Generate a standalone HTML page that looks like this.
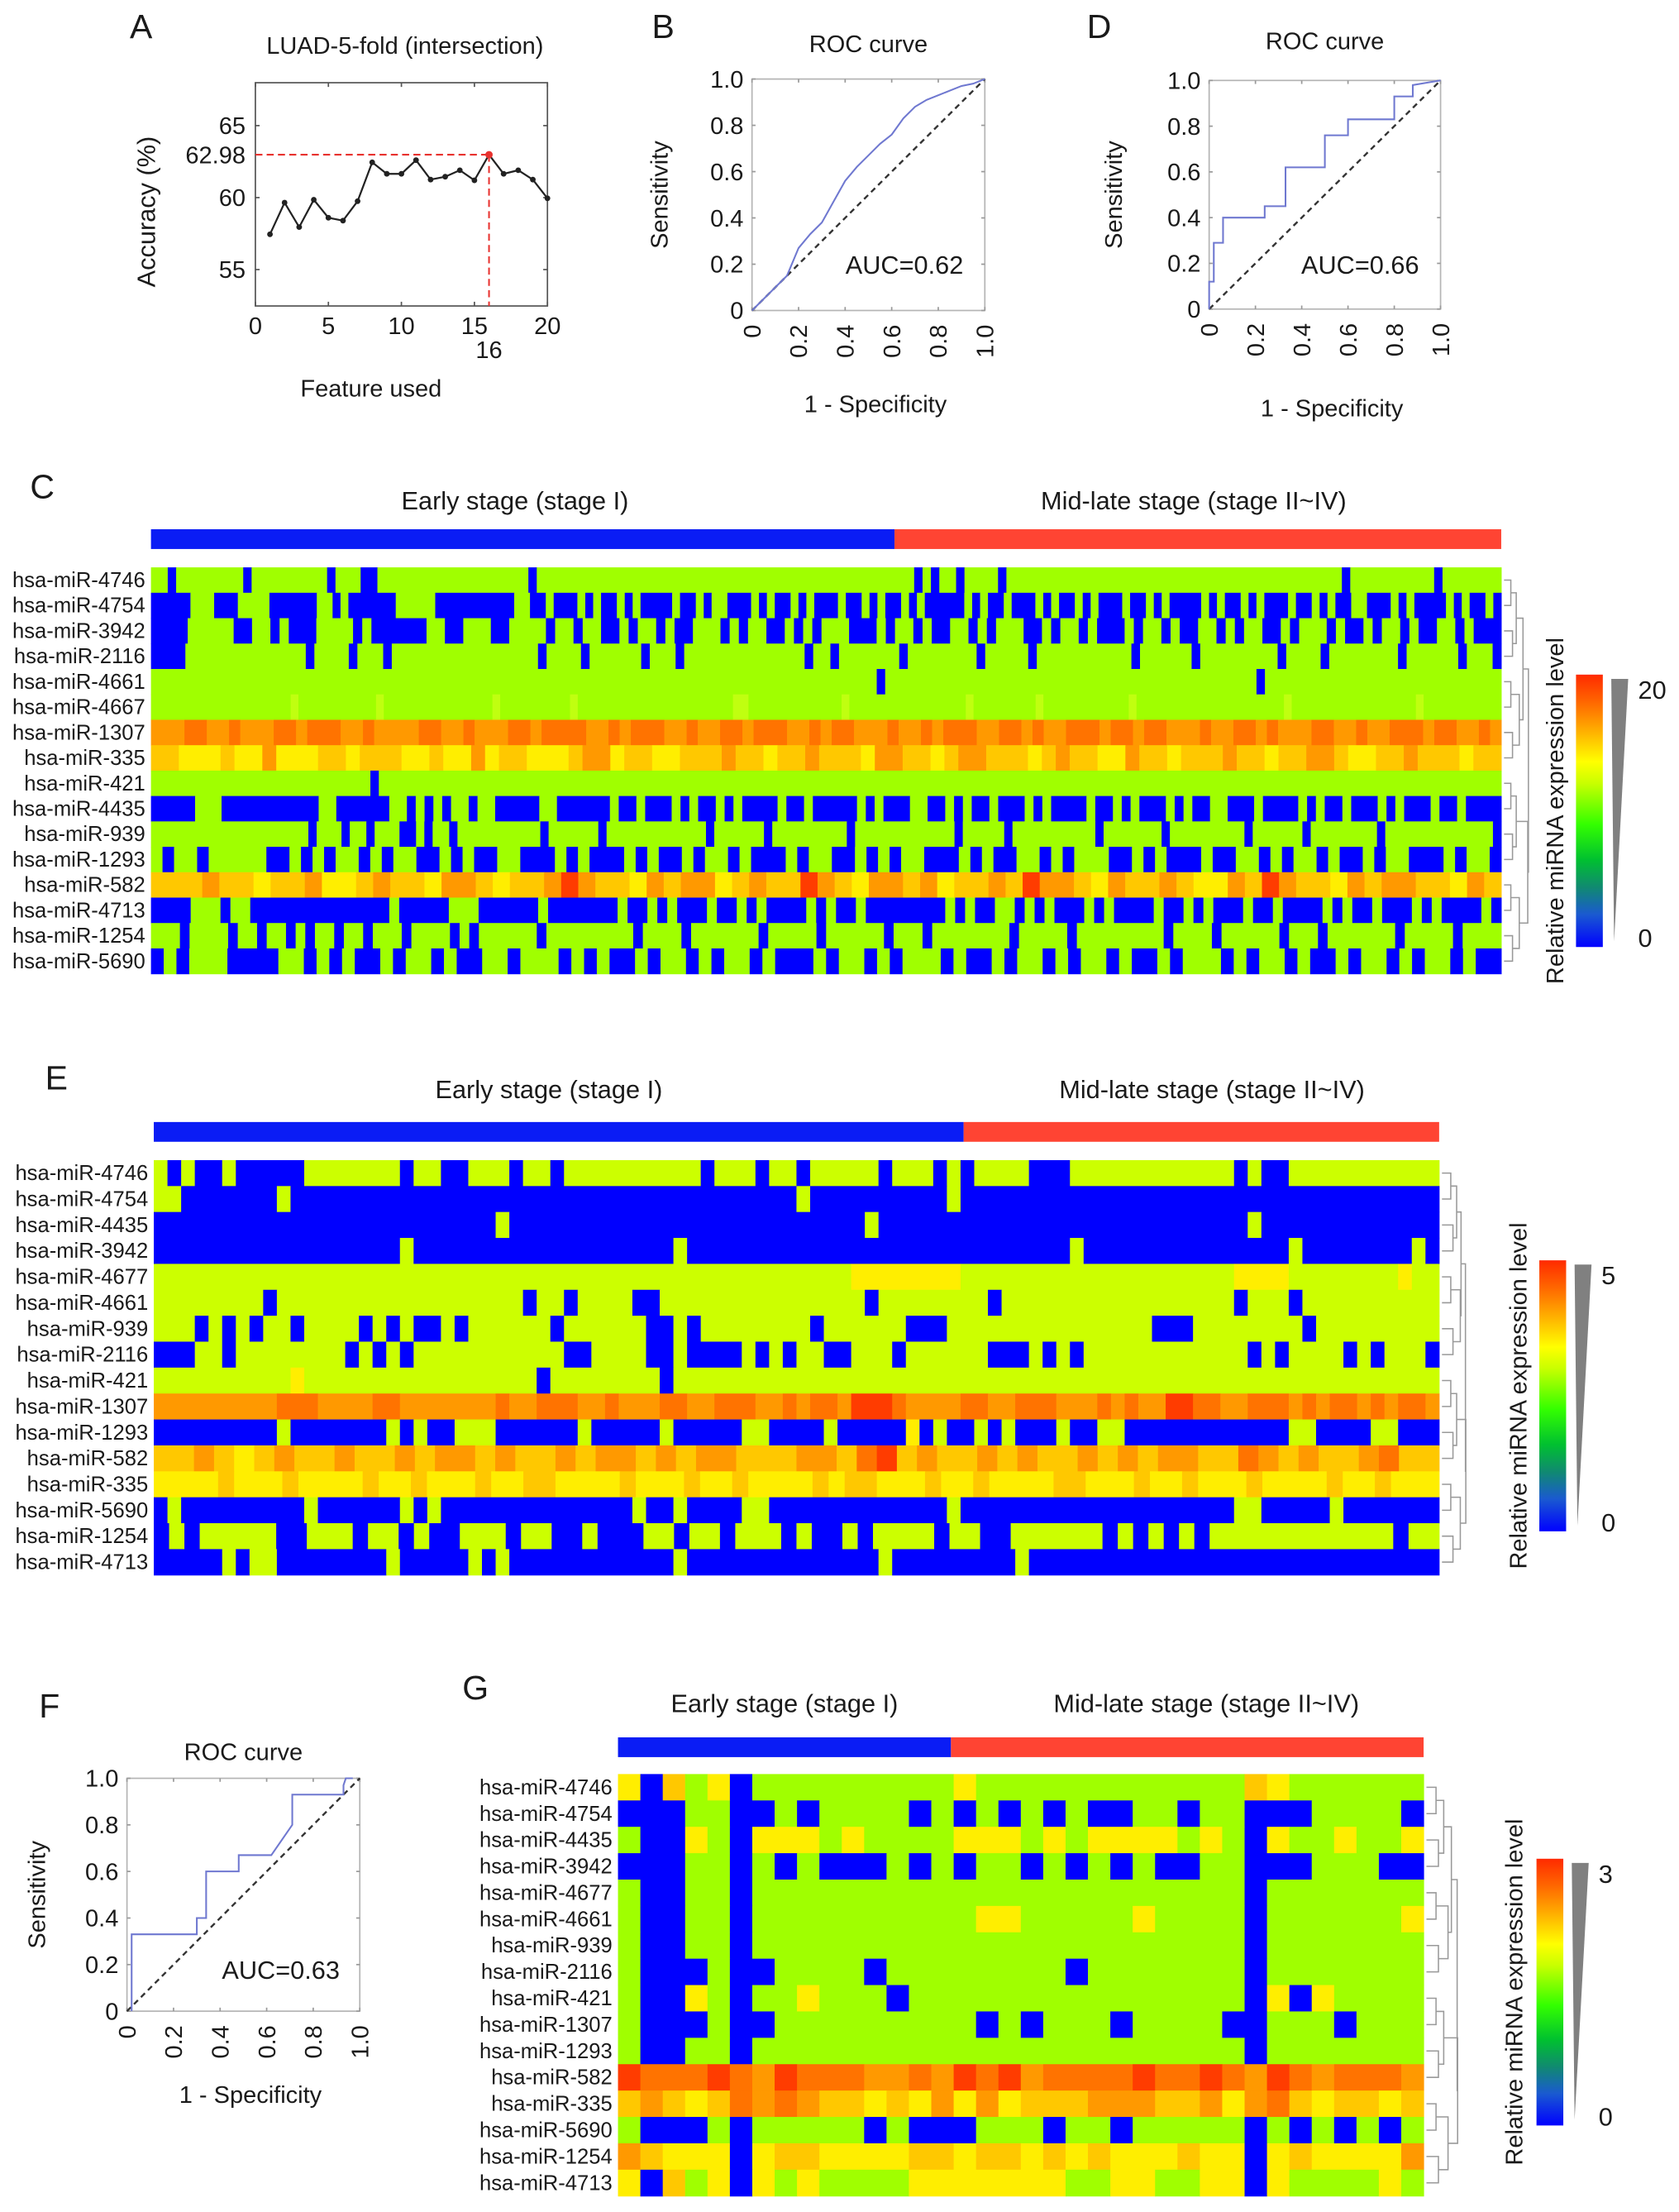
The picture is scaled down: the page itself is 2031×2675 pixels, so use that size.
<!DOCTYPE html>
<html><head><meta charset="utf-8"><style>
html,body{margin:0;padding:0;background:#fff;}
svg{display:block;font-family:"Liberation Sans",Arial,sans-serif;}
</style></head><body>
<svg id="fig" xmlns="http://www.w3.org/2000/svg" width="2031" height="2675" viewBox="0 0 1190 1567.3" preserveAspectRatio="none">
<rect x="0" y="0" width="1190" height="1567.3" fill="#fff"/>
</svg>
<script>
// ---------- Panel A data ----------
const featX = [1,2,3,4,5,6,7,8,9,10,11,12,13,14,15,16,17,18,19,20];
const accY = [57.45,59.65,57.95,59.85,58.6,58.4,59.75,62.45,61.65,61.65,62.6,61.25,61.45,61.9,61.2,62.98,61.65,61.9,61.25,59.95];
const accYTicks = [55,60,65];
const accXTicks = [0,5,10,15,20];
// ---------- ROC data ----------
const rocBx = [0,0.05,0.1,0.15,0.2,0.25,0.3,0.35,0.4,0.45,0.5,0.55,0.6,0.65,0.7,0.75,0.8,0.85,0.9,0.95,1];
const rocBy = [0,0.05,0.1,0.15,0.27,0.33,0.38,0.47,0.56,0.62,0.67,0.72,0.76,0.83,0.88,0.91,0.93,0.95,0.97,0.98,1];
const rocDx = [0,0,0.02,0.02,0.06,0.06,0.24,0.24,0.33,0.33,0.5,0.5,0.6,0.6,0.8,0.8,0.88,0.88,1];
const rocDy = [0,0.12,0.12,0.29,0.29,0.4,0.4,0.45,0.45,0.62,0.62,0.76,0.76,0.83,0.83,0.93,0.93,0.98,1];
const rocFx = [0.02,0.02,0.3,0.3,0.34,0.34,0.48,0.48,0.62,0.71,0.71,0.93,0.93,0.94,0.97];
const rocFy = [0,0.33,0.33,0.4,0.4,0.6,0.6,0.67,0.67,0.8,0.93,0.93,0.97,1,1];
const rocTicks = [0,0.2,0.4,0.6,0.8,1.0];
const rocTickLabels = ["0","0.2","0.4","0.6","0.8","1.0"];
// ---------- Heatmap C ----------
const genesC = ["hsa-miR-4746","hsa-miR-4754","hsa-miR-3942","hsa-miR-2116","hsa-miR-4661","hsa-miR-4667","hsa-miR-1307","hsa-miR-335","hsa-miR-421","hsa-miR-4435","hsa-miR-939","hsa-miR-1293","hsa-miR-582","hsa-miR-4713","hsa-miR-1254","hsa-miR-5690"];
const rowsC = [
"g2b1g8b1g9b1g3b2g18b1g45b1g1b1g2b1g4b1g40b1g10b1g7",
"b5g3b3g4b6g2b1g1b6g5b10g2b2g1b3g1b1g1b2g1b1g1b4g1b2g1b1g2b3g1b1g1b2g1b1g1b3g1b2g1b1g1b2g1b1g1b5g1b1g1b2g1b3g1b1g1b2g1b1g1b3g1b2g1b1g1b4g1b1g1b2g1b1g1b3g1b2g1b1g1b2g2b3g1b1g1b4g1b1g1b2g1b1",
"b4g5b2g2b1g1b3g4b1g1b6g2b2g3b2g4b1g2b1g2b2g1b1g2b1g1b2g3b1g1b1g2b2g1b1g1b1g3b3g1b1g2b1g1b2g2b1g1b1g3b2g1b1g2b1g1b3g1b1g2b1g1b2g2b1g1b1g2b2g1b1g3b1g1b2g1b1g2b1g1b2g2b1g1b3",
"b4g14b1g4b1g3b1g17b1g4b1g6b1g3b1g14b1g2b1g7b1g8b1g5b1g11b1g6b1g9b1g4b1g8b1g6b1g3b1",
"g86b1g44b1g28",
"g18h1g10h1g14h1g9h1g20h2g12h1g15h1g8h1g11h1g19h1g16h1g10",
"o3d2o2d1o3d2o1d3o2d1o4d2o2d1o3d2o1d4o2d1o1d3o2d1o2d2o1d3o2d1o1d2o3d1o2d1o1d3o2d2o1d1o2d3o1d2o1d2o3d1o2d2o1d1o3d2o2d1o2d3o1d2o2d1o1",
"l2y3l1y2o1y3l2y1l3y2l1y2o1y1l2y3l1o2y1l2y2l3o1l2y1l2o1l3y1o2l2y1l1o2l3y1l1o1l2y2o1l2y1l3o1l2y1l2o2l1y2l2o1l3y1l2",
"g26b1g133",
"b5g3b11g2b6g2b1g1b1g1b1g2b1g2b5g2b6g1b2g1b3g1b1g1b2g1b1g1b4g1b2g1b5g1b1g1b3g2b2g1b1g1b2g1b3g1b1g1b4g1b2g1b1g1b3g1b1g1b2g2b3g1b4g1b1g1b2g1b3g1b1g1b3g1b2g1b4",
"g19b1g3b1g2b1g3b2g1b1g2b1g10b1g6b1g12b1g6b1g9b1g12b1g5b1g10b1g7b1g9b1g6b1g8b1g13b1",
"g1b1g2b1g5b2g1b1g1b1g2b1g1b1g2b2g1b1g1b2g2b3g1b1g1b3g1b1g1b2g1b1g2b1g1b3g1b1g2b2g1b1g1b1g2b3g1b1g1b2g2b1g1b1g3b2g1b1g1b3g1b2g2b1g1b1g2b1g1b2g1b1g2b3g1b1g2b1",
"l3o1l2y1l2o1y2l1o1l2y1o2l1y1l2o1r1o1l2y1o1l1o2y1l1o1l2r1o1l1y1o2l1o1y1l2o1l1r1o2l1y1o1l2o1l1y2o1l1r1o1l2y1o1l1o2l2y1o1l1",
"b4g3b1g2b14g1b5g3b6g1b7g1b2g1b1g1b3g1b2g1b1g1b4g1b1g1b2g1b8g1b1g1b2g2b1g1b1g1b3g1b1g1b4g1b2g1b1g1b3g1b2g1b4g1b1g1b2g1b3g1b1g1b4g1b1",
"g3b1g4b1g2b1g2b1g1b1g2b1g2b1g3b1g4b1g1b1g6b1g9b1g4b1g7b1g5b1g6b1g3b1g8b1g5b1g9b1g4b1g6b1g3b1g7b1g5b1g4",
"b1g1b1g3b4g2b1g1b1g1b2g1b1g2b1g1b2g2b1g3b1g1b1g1b2g1b1g2b1g1b1g2b1g1b3g1b1g2b1g1b1g3b1g1b2g1b1g2b1g1b1g2b1g1b2g1b1g3b1g1b1g2b1g1b2g1b1g2b1g1b1g2b1g1b2"
];
// ---------- Heatmap E ----------
const genesE = ["hsa-miR-4746","hsa-miR-4754","hsa-miR-4435","hsa-miR-3942","hsa-miR-4677","hsa-miR-4661","hsa-miR-939","hsa-miR-2116","hsa-miR-421","hsa-miR-1307","hsa-miR-1293","hsa-miR-582","hsa-miR-335","hsa-miR-5690","hsa-miR-1254","hsa-miR-4713"];
const rowsE = [
"g1b1g1b2g1b5g7b1g2b2g3b1g2b1g10b1g3b1g2b1g5b1g3b1g1b1g4b3g12b1g1b2g11",
"g2b7g1b37g1b10g1b9b26",
"b25g1b26g1b27g1b13",
"b18g1b19g1b28g1b15g1b8g1b1",
"g51y8g20y4g8y1g2",
"g8b1g18b1g2b1g4b2g15b1g8b1g17b1g3b1g10",
"g3b1g1b1g1b1g2b1g4b1g1b1g1b2g1b1g6b1g6b2g1b1g8b1g6b3g15b3g8b1g9",
"b3g2b1g8b1g1b1g1b1g11b2g4b2g1b4g1b1g1b1g2b2g3b1g6b3g1b1g1b1g12b1g1b1g4b1g1b1g3b1",
"g10y1g17b1g8b1g56",
"o9d3o4d2o7d1o2d3o2d1o3d2o2d3o2d1o1d2o1r3d1o4d2o2d3o3d1o1d1o2r2d2o2d3o1d1o1d2o1d1o1d2o1",
"b9g1b7g1b1g1b2g3b6g1b5g1b5g2b4g1b5y1b1g1b2g1b1g1b3g1b2g2b12g2b4g2b3",
"l2o1l1y1l1o1l2o1l2o1l1o2l1o1l2o1l1o2l1o1l1o2l3o2l1d1r1l1o1l2o1l1o1l2o1l1o1l1o2l2d1o1l1o1l2o1d1l2",
"y4l1y3l1y4l1y2l1y3l1y2l2y4l1y3l1y2l1y4l1y1l2y3l1y2l1y4l2y3l1y2l1y3l1y4l1y2l1y3",
"b1g1b9g1b6g1b1g1b14g1b2g1b4g2b13g1b20g2b5g1b7",
"b1g1b1g5b2g3b1g2b1g1b2g3b1g2b2g1b3g2b1g2b1g3b1g1b2g1b1g4b1g2b2g6b1g1b1g1b1g1b1g12b1g2",
"b5g1b1g2b8g1b5g1b1g1b12g1b14g1b9g1b30"
];
// ---------- Heatmap G ----------
const genesG = ["hsa-miR-4746","hsa-miR-4754","hsa-miR-4435","hsa-miR-3942","hsa-miR-4677","hsa-miR-4661","hsa-miR-939","hsa-miR-2116","hsa-miR-421","hsa-miR-1307","hsa-miR-1293","hsa-miR-582","hsa-miR-335","hsa-miR-5690","hsa-miR-1254","hsa-miR-4713"];
const rowsG = [
"yblgybgggggggggyggggggggggggglygggggg".slice(0,0) + "yblgybgggggggggygggggggggggglygggggg",
"bbbggbbgbggggbgbgbgbgbbggbggbbbggggb",
"gbbygbyyygyggggyyygygyyyygygbyggyggy",
"bbbggbgbgbbbgbgbggbgbgbgbbggbbbgggbb",
"gbbggbggggggggggggggggggggggbggggggg",
"gbbggbggggggggggyygggggyggggbggggggy",
"gbbggbggggggggggggggggggggggbggggggg",
"gbbbgbbggggbggggggggbgggggggbggggggg",
"gbbygbggygggbgggggggggggggggbybygggg",
"gbbbgbbgggggggggbgbgggbggggbbgggbggg",
"gbbggbggggggggggggggggggggggbggggggg",
"rdddrdordddoodordroddddrddrdordodddo",
"lolyldodollylyoyoylllooolloyodlyllyl",
"gbbbgbgggggbgbbbgggbggbgggggbgbgbgbg",
"olyyybyllyyyyllyllylylyyylyybylyyyyo",
"yblgybygyggggyyyyyyyggyyggyybyggggyg"
];
</script>
<script>
const NS = "http://www.w3.org/2000/svg";
const svg = document.getElementById('fig');
function el(tag, attrs, parent) {
  const e = document.createElementNS(NS, tag);
  for (const k in attrs) e.setAttribute(k, attrs[k]);
  (parent || svg).appendChild(e);
  return e;
}
function txt(s, x, y, size, anchor, parent, rot) {
  const t = el('text', {x:x, y:y, 'font-size':size, 'text-anchor':anchor||'middle', fill:'#1a1a1a'}, parent);
  if (rot) t.setAttribute('transform', 'rotate(' + rot + ' ' + x + ' ' + y + ')');
  t.textContent = s;
  return t;
}
function group(name) {
  const g = el('g', {});
  
  
  return g;
}
function label(s, x, y, size, anchor, parent, name, rot) {
  const t = txt(s, x, y, size, anchor, parent, rot);
  
  
  return t;
}
[["A",100,27],["B",470,27],["D",779,27],["C",30,353],["E",40,772],["F",35,1217],["G",337,1204]].forEach(p=>{
  const t = txt(p[0], p[1], p[2], 24, 'middle');
  
  
});

// ---------- Panel A ----------
(function(){
  const g = group('panel-a-accuracy-chart');
  const L=181,R=388,T=58.6,B=216.8;
  const xs = v => L + v*(R-L)/20;
  const ys = v => 140 - (v-60)*10.2;
  const box = el('rect',{x:L,y:T,width:R-L,height:B-T,fill:'none',stroke:'#555','stroke-width':1},g);
   
  accXTicks.forEach(v=>{
    el('line',{x1:xs(v),x2:xs(v),y1:B,y2:B-3,stroke:'#555'},g);
    el('line',{x1:xs(v),x2:xs(v),y1:T,y2:T+3,stroke:'#555'},g);
    label(String(v), xs(v), B+20, 17, 'middle', g, 'x-tick-label');
  });
  accYTicks.forEach(v=>{
    el('line',{x1:L,x2:L+3,y1:ys(v),y2:ys(v),stroke:'#555'},g);
    el('line',{x1:R,x2:R-3,y1:ys(v),y2:ys(v),stroke:'#555'},g);
    label(String(v), L-7, ys(v)+6, 17, 'end', g, 'y-tick-label');
  });
  const best = accY[15];
  label(best.toFixed(2), L-7, ys(best)+6, 17, 'end', g, 'best-accuracy-label');
  label(String(featX[15]), xs(featX[15]), B+37, 17, 'middle', g, 'best-feature-label');
  const h = el('line',{x1:L,x2:xs(featX[15]),y1:ys(best),y2:ys(best),stroke:'#e8322f','stroke-width':1.2,'stroke-dasharray':'5,3'},g);
   
  const v = el('line',{x1:xs(featX[15]),x2:xs(featX[15]),y1:ys(best),y2:B,stroke:'#e8322f','stroke-width':1.2,'stroke-dasharray':'5,3'},g);
   
  const pts = featX.map((x,i)=>xs(x)+','+ys(accY[i])).join(' ');
  const line = el('polyline',{points:pts,fill:'none',stroke:'#222','stroke-width':1.3},g);
   
  featX.forEach((x,i)=>{
    const c = el('circle',{cx:xs(x),cy:ys(accY[i]),r:i===15?2.6:2,fill:i===15?'#e8322f':'#222'},g);
     
  });
  label('LUAD-5-fold (intersection)', 287, 38, 17, 'middle', g, 'chart-title');
  label('Feature used', 263, 281, 17, 'middle', g, 'x-axis-title');
  label('Accuracy (%)', 110, 150, 18, 'middle', g, 'y-axis-title', -90);
})();

function roc(name, L, R, T, B, xsArr, ysArr, auc, aucX, aucY, title, titleY, ylabX, xlabY) {
  const g = group(name);
  const xs = v => L + v*(R-L);
  const ys = v => B - v*(B-T);
  const box = el('rect',{x:L,y:T,width:R-L,height:B-T,fill:'none',stroke:'#b5b5b5','stroke-width':1},g);
   
  rocTicks.forEach((v,i)=>{
    el('line',{x1:xs(v),x2:xs(v),y1:B,y2:B-2.5,stroke:'#999'},g);
    el('line',{x1:xs(v),x2:xs(v),y1:T,y2:T+2.5,stroke:'#999'},g);
    el('line',{x1:L,x2:L+2.5,y1:ys(v),y2:ys(v),stroke:'#999'},g);
    el('line',{x1:R,x2:R-2.5,y1:ys(v),y2:ys(v),stroke:'#999'},g);
    label(rocTickLabels[i], L-6, ys(v)+6, 17, 'end', g, 'y-tick-label');
    label(rocTickLabels[i], xs(v)+6, B+10, 17, 'end', g, 'x-tick-label', -90);
  });
  const d = el('line',{x1:xs(0),y1:ys(0),x2:xs(1),y2:ys(1),stroke:'#333','stroke-width':1.4,'stroke-dasharray':'4,3'},g);
   
  const pts = xsArr.map((x,i)=>xs(x)+','+ys(ysArr[i])).join(' ');
  const c = el('polyline',{points:pts,fill:'none',stroke:'#6f78d0','stroke-width':1.2},g);
   
  label(auc, aucX, aucY, 18, 'middle', g, 'auc-label');
  label(title, (L+R)/2, titleY, 17, 'middle', g, 'chart-title');
  label('Sensitivity', ylabX, (T+B)/2, 17, 'middle', g, 'y-axis-title', -90);
  label('1 - Specificity', (L+R)/2 + 5, xlabY, 17, 'middle', g, 'x-axis-title');
}
roc('panel-b-roc', 533, 698, 56, 220, rocBx, rocBy, 'AUC=0.62', 641, 194, 'ROC curve', 37, 473, 292);
roc('panel-d-roc', 857, 1021, 57, 219, rocDx, rocDy, 'AUC=0.66', 964, 194, 'ROC curve', 35, 795, 295);
roc('panel-f-roc', 90, 255, 1260, 1425, rocFx, rocFy, 'AUC=0.63', 199, 1402, 'ROC curve', 1247, 32, 1490);

function parseRLE(s) {
  const out = [];
  if (!/\d/.test(s)) return s.split('');
  const re = /([a-z])(\d*)/g; let m;
  while ((m = re.exec(s)) !== null) {
    const n = m[2] === '' ? 1 : parseInt(m[2],10);
    for (let i=0;i<n;i++) out.push(m[1]);
  }
  return out;
}
function heatmap(opts) {
  const g = group(opts.name);
  const pal = {b:'#0000ff', g:opts.green, h:opts.green2, y:'#ffee00', l:'#ffc800', o:'#ff9900', d:'#ff7300', r:'#ff3c00'};
  const nR = opts.rows.length;
  const rh = (opts.B - opts.T) / nR;
  opts.rows.forEach((rs, ri) => {
    const cells = parseRLE(rs);
    const cw = (opts.R - opts.L) / cells.length;
    let i = 0;
    while (i < cells.length) {
      let j = i; while (j < cells.length && cells[j] === cells[i]) j++;
      const r = el('rect',{x:opts.L + i*cw, y:opts.T + ri*rh, width:(j-i)*cw+0.3, height:rh+0.3, fill:pal[cells[i]]}, g);
       
      i = j;
    }
    label(opts.genes[ri], opts.L - 4, opts.T + ri*rh + rh/2 + 5, 15, 'end', g, 'row-label');
  });
  const sb1 = el('rect',{x:opts.L, y:opts.barY, width:opts.split-opts.L, height:14, fill:'#0a1cf5'}, g);
   
  const sb2 = el('rect',{x:opts.split, y:opts.barY, width:opts.R-opts.split, height:14, fill:'#ff4433'}, g);
   
  label('Early stage (stage I)', opts.h1x, opts.hY, 18, 'middle', g, 'early-stage-header');
  label('Mid-late stage (stage II~IV)', opts.h2x, opts.hY, 18, 'middle', g, 'mid-late-stage-header');
  const dg = el('g',{fill:'none',stroke:'#999','stroke-width':0.9}, g);
   
  const x0 = opts.R + 2, dw = opts.dw;
  let nodes = [];
  for (let i=0;i<nR;i++) nodes.push({y:opts.T + i*rh + rh/2, x:x0});
  const levels = opts.levels;
  let lev = 0;
  while (nodes.length > 1) {
    const nn = [];
    for (let i=0;i<nodes.length;i+=2) {
      if (i+1 >= nodes.length) { nn.push(nodes[i]); continue; }
      const a = nodes[i], b = nodes[i+1];
      const hx = x0 + dw * levels[lev] * (0.8 + 0.2*((i/2)%2));
      el('path',{d:'M'+a.x+' '+a.y+'H'+hx+'V'+b.y+'H'+b.x}, dg);
      nn.push({y:(a.y+b.y)/2, x:hx});
    }
    nodes = nn; lev++;
  }
  const gid = 'grad-' + opts.name;
  const defs = el('defs',{}, g);
  const lg = el('linearGradient',{id:gid,x1:0,y1:1,x2:0,y2:0}, defs);
  [['0','#0000ff'],['0.12','#1a5ad0'],['0.22','#108a70'],['0.32','#00c030'],['0.45','#33ff00'],['0.6','#c8ff00'],['0.68','#ffff00'],['0.8','#ffaa00'],['0.9','#ff6600'],['1','#ff2a00']].forEach(s=>{
    el('stop',{offset:s[0],'stop-color':s[1]}, lg);
  });
  const cb = el('rect',{x:opts.cbX, y:opts.cbT, width:19, height:opts.cbB-opts.cbT, fill:'url(#'+gid+')'}, g);
   
  const tri = el('polygon',{points:(opts.cbX+25)+','+(opts.cbT+3)+' '+(opts.cbX+37)+','+(opts.cbT+3)+' '+(opts.cbX+27)+','+(opts.cbB-4), fill:'#808080'}, g);
   
  label(opts.max, opts.cbX+44, opts.cbT+17, 18, 'start', g, 'scale-max-label');
  label('0', opts.cbX+44, opts.cbB, 18, 'start', g, 'scale-min-label');
  label('Relative miRNA expression level', opts.lblX, (opts.cbT+opts.cbB)/2, 17, 'middle', g, 'color-scale-title', -90);
}
heatmap({name:'panel-c-heatmap', rows:rowsC, genes:genesC, L:107, R:1064, T:402, B:690, green:'#a0ff00', green2:'#c0ff10',
  barY:375, split:634, hY:361, h1x:365, h2x:846, dw:24, levels:[0.25,0.45,0.7,0.9,1],
  cbX:1117, cbT:478, cbB:671, max:'20', lblX:1108});
heatmap({name:'panel-e-heatmap', rows:rowsE, genes:genesE, L:109, R:1020, T:822, B:1116, green:'#ccff00', green2:'#ddff22',
  barY:795, split:683, hY:778, h1x:389, h2x:859, dw:26, levels:[0.3,0.5,0.65,0.8,1],
  cbX:1091, cbT:893, cbB:1085, max:'5', lblX:1082});
heatmap({name:'panel-g-heatmap', rows:rowsG, genes:genesG, L:438, R:1009, T:1257, B:1556, green:'#a0ff00', green2:'#b8ff10',
  barY:1231, split:674, hY:1213, h1x:556, h2x:855, dw:34, levels:[0.25,0.45,0.65,0.8,1],
  cbX:1089, cbT:1317, cbB:1506, max:'3', lblX:1079});
</script>
</body></html>
